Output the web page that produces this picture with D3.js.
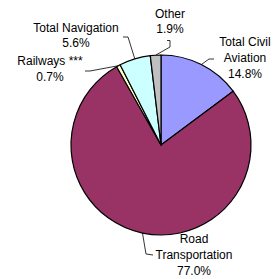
<!DOCTYPE html>
<html>
<head>
<meta charset="utf-8">
<script src="https://cdn.jsdelivr.net/npm/d3@7"></script>
<style>
  body { margin: 0; background: #fff; }
  text { font-family: "Liberation Sans", Arial, sans-serif; font-size: 12px; fill: #000; }
</style>
</head>
<body>
<div class="chart"></div>
<script>
// chart data
var categories = ["Total Civil Aviation", "Road Transportation", "Railways ***", "Total Navigation", "Other"];
var shares = [14.8, 77.0, 0.7, 5.6, 1.9];
var labelLines = [["Total Civil", "Aviation", "14.8%"], ["Road", "Transportation", "77.0%"], ["Railways ***", "0.7%"], ["Total Navigation", "5.6%"], ["Other", "1.9%"]];
var colors = ["#9999ff", "#993366", "#ffffcc", "#ccffff", "#c0c0c0"];

// label layout (text centre x, first baseline y) and leader elbows
var labelPos = [[245, 46], [194, 243], [50, 65], [76, 31.5], [170, 17.5]];
var leaderPts = [
  [[209, 59], [214, 59]],
  [[146, 254], [153, 255]],
  [[90, 71], [85, 71]],
  [[128, 37], [123, 37]],
  [[170, 47], [170, 40.5], [167, 40.5]]
];

var svgWidth = 273, svgHeight = 279;
var cx = 161, cy = 145, radius = 90;

var svg = d3.select(".chart")
  .append("svg")
  .attr("width", svgWidth)
  .attr("height", svgHeight);

var data = categories.map(function(c, i) {
  return { name: c, value: shares[i], index: i };
});

var pie = d3.pie().sort(null).value(function(d) { return d.value; });
var arc = d3.arc().innerRadius(0).outerRadius(radius);
var arcs = pie(data);

var chart = svg.append("g").attr("transform", "translate(" + cx + "," + cy + ")");

chart.selectAll("path.slice")
  .data(arcs)
  .enter()
  .append("path")
  .attr("class", "slice")
  .attr("d", arc)
  .attr("fill", function(d) { return colors[d.data.index]; })
  .attr("stroke", "#000")
  .attr("stroke-width", 1.2)
  .attr("stroke-linejoin", "round");

// leader lines from the slice edge to the label
var line = d3.line();
svg.selectAll("path.leader")
  .data(arcs)
  .enter()
  .append("path")
  .attr("class", "leader")
  .attr("d", function(d, i) {
    var a = (d.startAngle + d.endAngle) / 2;
    var edge = [cx + radius * Math.sin(a), cy - radius * Math.cos(a)];
    return line([edge].concat(leaderPts[i]));
  })
  .attr("fill", "none")
  .attr("stroke", "#000")
  .attr("stroke-width", 0.8);

// labels
var labels = svg.selectAll("text.lbl")
  .data(arcs)
  .enter()
  .append("text")
  .attr("class", "lbl")
  .attr("text-anchor", "middle");

labels.each(function(d, i) {
  var t = d3.select(this);
  labelLines[i].forEach(function(s, k) {
    t.append("tspan")
      .attr("x", labelPos[i][0])
      .attr("y", labelPos[i][1] + k * 15.8)
      .text(s);
  });
});
</script>
</body>
</html>
